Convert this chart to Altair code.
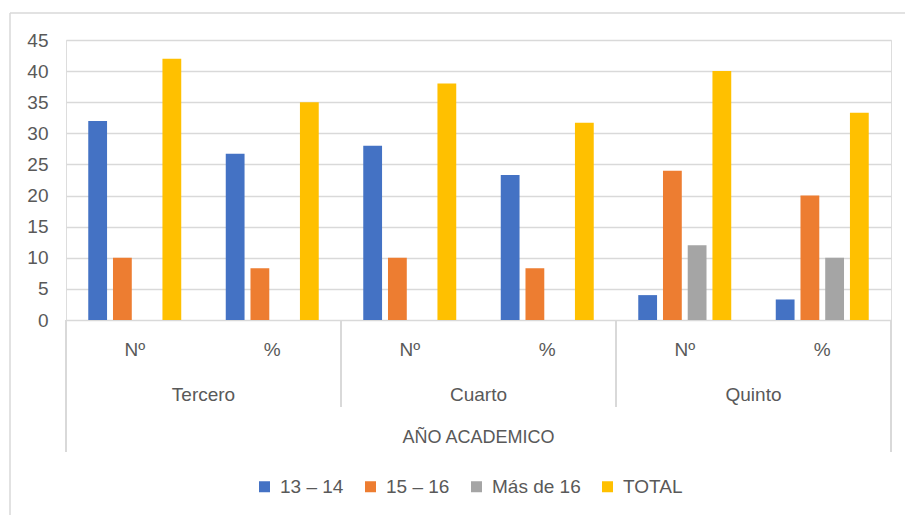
import altair as alt
import pandas as pd

# ---- data ----
anios = ["Tercero", "Tercero", "Cuarto", "Cuarto", "Quinto", "Quinto"]
medidas = ["Nº", "%", "Nº", "%", "Nº", "%"]
series = ["13 – 14", "15 – 16", "Más de 16", "TOTAL"]
v_13_14 = [32, 26.7, 28, 23.3, 4, 3.3]
v_15_16 = [10, 8.3, 10, 8.3, 24, 20]
v_mas16 = [0, 0, 0, 0, 12, 10]
v_total = [42, 35, 38, 31.7, 40, 33.3]
colores = ["#4472C4", "#ED7D31", "#A5A5A5", "#FFC000"]
y_ticks = [0, 5, 10, 15, 20, 25, 30, 35, 40, 45]
anio_unicos = ["Tercero", "Cuarto", "Quinto"]
titulo_eje = "AÑO ACADEMICO"

cats = [f"{a}-{m}" for a, m in zip(anios, medidas)]
rows = []
for s, vals in zip(series, [v_13_14, v_15_16, v_mas16, v_total]):
    for c, a, m, v in zip(cats, anios, medidas, vals):
        rows.append({"cat": c, "anio": a, "medida": m, "serie": s, "valor": v})
df = pd.DataFrame(rows)

FONT = "Liberation Sans"
FS = 19
TXT = "#595959"
LINE = "#D9D9D9"

xscale = alt.Scale(domain=cats, paddingInner=0, paddingOuter=0)
X = lambda bp=0.5: alt.X("cat:N", scale=xscale, axis=None, bandPosition=bp)

bars = alt.Chart(df).mark_bar().encode(
    x=alt.X("cat:N", scale=xscale, axis=None),
    xOffset=alt.XOffset("serie:N", sort=series,
                        scale=alt.Scale(domain=series, paddingInner=0.24, paddingOuter=0.9)),
    y=alt.Y("valor:Q", scale=alt.Scale(domain=[0, 45], nice=False),
            axis=alt.Axis(values=y_ticks, title=None, domain=False, ticks=False,
                          grid=True, gridColor=LINE, gridWidth=1.5,
                          labelPadding=18, labelFontSize=FS, labelFont=FONT,
                          labelColor=TXT)),
    color=alt.Color("serie:N", sort=series,
                    scale=alt.Scale(domain=series, range=colores),
                    legend=alt.Legend(title=None, orient="none", direction="horizontal",
                                      legendX=189, legendY=437, symbolType="square",
                                      symbolSize=121, symbolStrokeWidth=0,
                                      labelFont=FONT, labelFontSize=FS, labelColor=TXT,
                                      labelOffset=6, columnPadding=17,
                                      labelExpr="datum.label == 'Más de 16' ? '\u00a0\u00a0Más de 16' : datum.label")),
)

med_df = pd.DataFrame({"cat": cats, "medida": medidas})
med_txt = alt.Chart(med_df).mark_text(font=FONT, fontSize=FS, color=TXT, baseline="middle").encode(
    x=X(), y=alt.value(310), text="medida:N")

anio_df = pd.DataFrame({"cat": [f"{a}-%" for a in anio_unicos], "anio": anio_unicos})
anio_txt = alt.Chart(anio_df).mark_text(font=FONT, fontSize=FS, color=TXT, baseline="middle").encode(
    x=X(0), y=alt.value(355), text="anio:N")

tit_df = pd.DataFrame({"cat": ["Cuarto-%"], "t": [titulo_eje]})
tit_txt = alt.Chart(tit_df).mark_text(font=FONT, fontSize=18, color=TXT, baseline="middle").encode(
    x=X(0), y=alt.value(398), text="t:N")

div_df = pd.DataFrame({"cat": ["Cuarto-Nº", "Quinto-Nº"]})
div_rules = alt.Chart(div_df).mark_rule(color=LINE, strokeWidth=2).encode(
    x=X(0), y=alt.value(280), y2=alt.value(367))

outer_l = alt.Chart(pd.DataFrame({"cat": ["Tercero-Nº"]})).mark_rule(color=LINE, strokeWidth=2).encode(
    x=X(0), y=alt.value(280), y2=alt.value(412))
outer_r = alt.Chart(pd.DataFrame({"cat": ["Quinto-%"]})).mark_rule(color=LINE, strokeWidth=2).encode(
    x=X(1), y=alt.value(280), y2=alt.value(412))

# chart frame (decorative border)
frame_top = alt.Chart(pd.DataFrame({"k": [0]})).mark_rule(color=LINE, strokeWidth=1.5).encode(
    x=alt.value(-56), x2=alt.value(850), y=alt.value(-27))
frame_left = alt.Chart(pd.DataFrame({"k": [0]})).mark_rule(color=LINE, strokeWidth=1.5).encode(
    x=alt.value(-56), y=alt.value(-27), y2=alt.value(480))

chart = alt.layer(
    frame_top, frame_left, bars, med_txt, anio_txt, tit_txt, div_rules, outer_l, outer_r
).properties(
    width=825, height=280,
    autosize=alt.AutoSizeParams(type="none"),
    padding={"left": 66, "top": 40, "right": 14, "bottom": 195},
).configure_view(stroke=None).configure(background="white")

chart.save("out.html", embed_options={"renderer": "svg", "actions": False})
